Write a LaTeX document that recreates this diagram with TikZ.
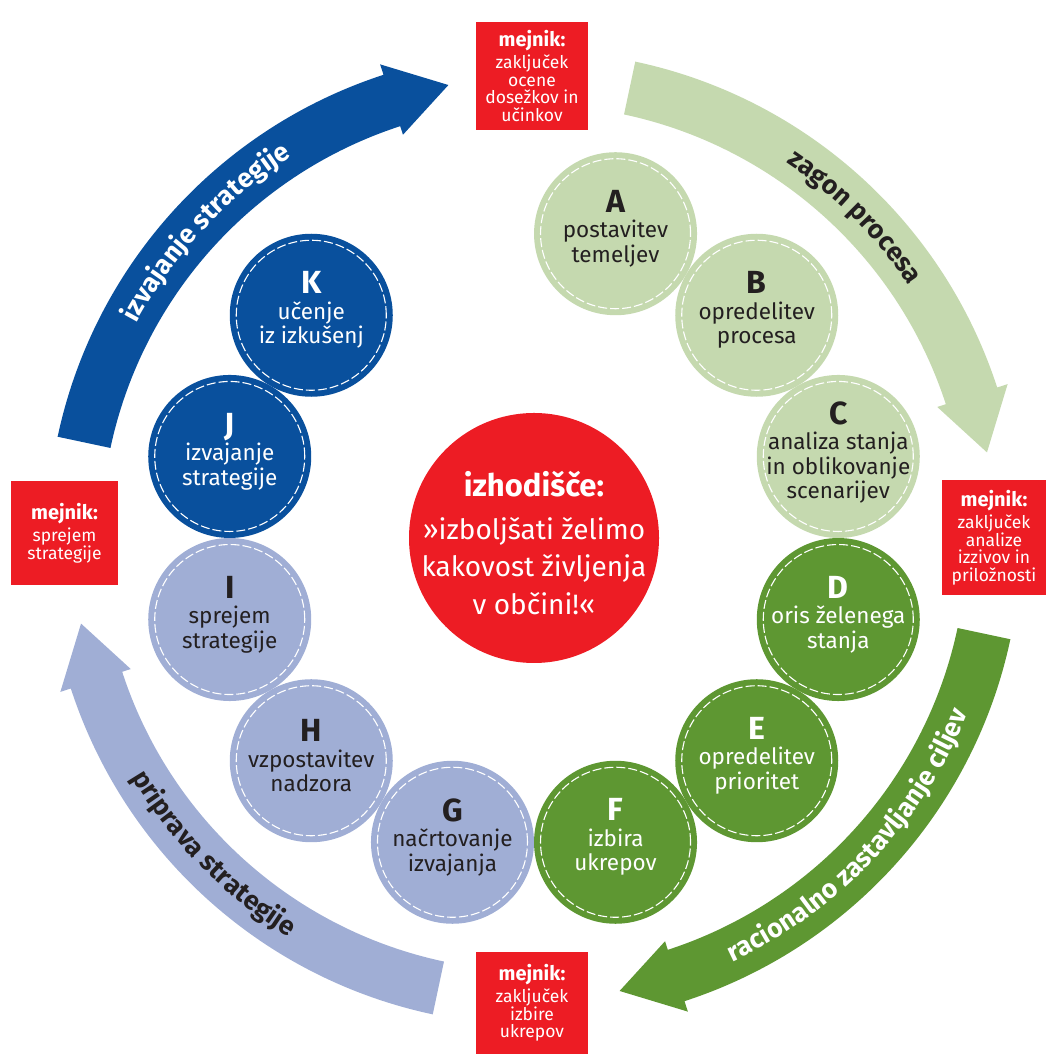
\documentclass[tikz,border=0pt]{standalone}
\usepackage{fontspec}
\setmainfont{Fira Sans}
\usetikzlibrary{decorations.text}

\definecolor{bluec}{RGB}{9,80,157}
\definecolor{lgreen}{RGB}{197,217,175}
\definecolor{dgreen}{RGB}{94,151,50}
\definecolor{lav}{RGB}{160,174,213}
\definecolor{redc}{RGB}{237,28,36}
\definecolor{ink}{RGB}{35,31,32}

% thick ring arrow: colour, tail angle, head base angle, tip angle
\newcommand\ringarrow[4]{%
  \fill[#1] (#2:487pt) arc[start angle=#2, end angle=#3, radius=487pt]
    -- (#3:498pt) -- (#4:461pt) -- (#3:424pt) -- (#3:433pt)
    arc[start angle=#3, end angle=#2, radius=433pt] -- cycle;}

\newcommand\stageletter[1]{{\fontsize{32}{25}\selectfont\bfseries #1}\\[1pt]}
\newcommand\mejnik{{\bfseries\fontsize{20}{20}\selectfont mejnik:}\\[3pt]}
\newcommand\arrowfont{\bfseries\fontsize{26.5}{26.5}\selectfont}

\begin{document}
\begin{tikzpicture}[x=1pt,y=1pt,
  stage/.style={circle, minimum size=163pt, inner sep=0pt,
    path picture={\draw[white, line width=1.1pt, dash pattern=on 9pt off 3pt]
      (path picture bounding box.center) circle[radius=75pt];}},
  stagetext/.style={align=center, inner sep=0pt, font=\fontsize{22.5}{24.5}\selectfont},
  milestone/.style={fill=redc, inner sep=0pt, align=center, text=white,
    font=\fontsize{17.5}{17.5}\selectfont},
  arrowtext/.style={decorate, decoration={text along path, text align=center,
    text color=#1}},
]
\useasboundingbox (0,0) rectangle (1046,1054);

\begin{scope}[shift={(534,516)}]
  % the four process arrows around the ring
  \ringarrow{bluec}{168}{108}{100.7}
  \ringarrow{lgreen}{78}{18}{10.7}
  \ringarrow{dgreen}{-12}{-72}{-79.3}
  \ringarrow{lav}{-102}{-162}{-169.3}

  % arrow captions
  \path[arrowtext=white, decoration={text={|\arrowfont|izvajanje strategije}}]
    (172:452pt) arc[start angle=172, end angle=102, radius=452pt];
  \path[arrowtext=ink, decoration={text={|\arrowfont|zagon procesa}}]
    (80:452pt) arc[start angle=80, end angle=10, radius=452pt];
  \path[arrowtext=white, decoration={text={|\arrowfont|racionalno zastavljanje ciljev}}]
    (-78.5:468pt) arc[start angle=-78.5, end angle=-8.5, radius=468pt];
  \path[arrowtext=ink, decoration={text={|\arrowfont|priprava strategije}}]
    (-170.4:468pt) arc[start angle=-170.4, end angle=-100.4, radius=468pt];

  % stage circles
  \node[stage, fill=lgreen] (A) at (75:315pt) {};
  \node[stage, fill=lgreen] (B) at (45:315pt) {};
  \node[stage, fill=lgreen] (C) at (15:315pt) {};
  \node[stage, fill=dgreen] (D) at (-15:315pt) {};
  \node[stage, fill=dgreen] (E) at (-45:315pt) {};
  \node[stage, fill=dgreen] (F) at (-75:315pt) {};
  \node[stage, fill=lav] (G) at (-105:315pt) {};
  \node[stage, fill=lav] (H) at (-135:315pt) {};
  \node[stage, fill=lav] (I) at (-165:315pt) {};
  \node[stage, fill=bluec] (J) at (165:315pt) {};
  \node[stage, fill=bluec] (K) at (135:315pt) {};

  \node[stagetext, text=ink] (A-t) at ([yshift=5pt]A.center) {\stageletter{A}postavitev\\temeljev};
  \node[stagetext, text=ink] (B-t) at ([yshift=5pt]B.center) {\stageletter{B}opredelitev\\procesa};
  \node[stagetext, text=ink] (C-t) at ([yshift=4pt]C.center) {\stageletter{C}analiza stanja\\in oblikovanje\\scenarijev};
  \node[stagetext, text=white] (D-t) at ([yshift=5pt]D.center) {\stageletter{D}oris želenega\\stanja};
  \node[stagetext, text=white] (E-t) at ([yshift=5pt]E.center) {\stageletter{E}opredelitev\\prioritet};
  \node[stagetext, text=white] (F-t) at ([yshift=5pt]F.center) {\stageletter{F}izbira\\ukrepov};
  \node[stagetext, text=ink] (G-t) at ([yshift=5pt]G.center) {\stageletter{G}načrtovanje\\izvajanja};
  \node[stagetext, text=ink] (H-t) at ([yshift=5pt]H.center) {\stageletter{H}vzpostavitev\\nadzora};
  \node[stagetext, text=ink] (I-t) at ([yshift=5pt]I.center) {\stageletter{I}sprejem\\strategije};
  \node[stagetext, text=white] (J-t) at ([yshift=5pt]J.center) {\stageletter{J}izvajanje\\strategije};
  \node[stagetext, text=white] (K-t) at ([yshift=5pt]K.center) {\stageletter{K}učenje\\iz izkušenj};

  % starting point in the middle
  \node[circle, fill=redc, minimum size=250pt, inner sep=0pt] (core) at (0,0) {};
  \node[align=center, inner sep=0pt, text=white, font=\fontsize{28}{37.5}\selectfont] (core-t)
    at ([yshift=-5pt]core.center)
    {{\bfseries\fontsize{31}{31}\selectfont izhodišče:}\\[5pt]»izboljšati želimo\\kakovost življenja\\v občini!«};
\end{scope}

% milestones
\node[milestone, minimum width=112pt, minimum height=108pt] (m-top) at (532,978)
  {\mejnik zaključek\\ocene\\dosežkov in\\učinkov};
\node[milestone, minimum width=104pt, minimum height=115pt] (m-right) at (994,516.5)
  {\mejnik zaključek\\analize\\izzivov in\\priložnosti};
\node[milestone, minimum width=112pt, minimum height=102pt] (m-bottom) at (532,51)
  {\mejnik zaključek\\izbire\\ukrepov};
\node[milestone, minimum width=107pt, minimum height=104pt] (m-left) at (64.5,521)
  {\mejnik sprejem\\strategije};
\end{tikzpicture}
\end{document}
